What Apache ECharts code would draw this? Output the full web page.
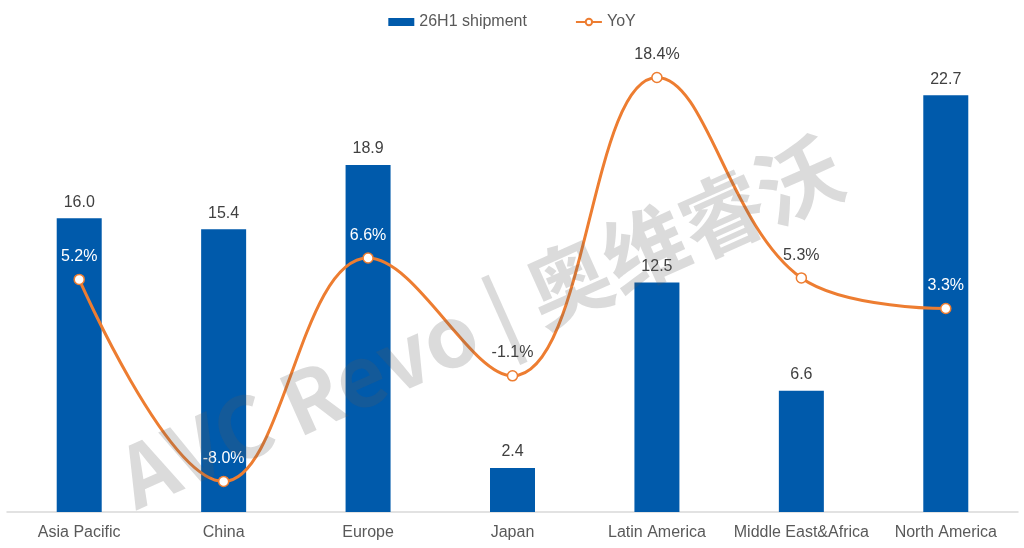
<!DOCTYPE html>
<html>
<head>
<meta charset="utf-8">
<script src="https://cdn.jsdelivr.net/npm/echarts@6/dist/echarts.min.js"></script>
<style>
  html, body { margin: 0; padding: 0; background: #fff; }
  #main { width: 1024px; height: 548px; }
</style>
</head>
<body>
<div id="main"></div>
<script>
var regions = ['Asia Pacific', 'China', 'Europe', 'Japan', 'Latin America', 'Middle East&Africa', 'North America'];
var shipment = [16.0, 15.4, 18.9, 2.4, 12.5, 6.6, 22.7];
var yoy = [5.2, -8.0, 6.6, -1.1, 18.4, 5.3, 3.3];
// label sits on the bar (white) or on blank background (dark)
var yoyOnBar = [true, true, true, false, false, false, true];

var font = 'Liberation Sans, Arial, sans-serif';

var myChart = echarts.init(document.getElementById('main'));

myChart.setOption({
  animation: false,
  textStyle: { fontFamily: font },
  legend: {
    top: 9,
    left: 'center',
    itemGap: 48,
    itemWidth: 26,
    itemHeight: 8,
    textStyle: { fontSize: 16, color: '#595959', fontFamily: font },
    data: [
      { name: '26H1 shipment', icon: 'rect' },
      { name: 'YoY' }
    ]
  },
  grid: { left: 7, right: 6, top: 53, bottom: 36 },
  xAxis: {
    type: 'category',
    data: regions,
    axisTick: { show: false },
    axisLine: { lineStyle: { color: '#d9d9d9', width: 1.5 } },
    axisLabel: { interval: 0, fontSize: 16, color: '#595959', margin: 13, fontFamily: font }
  },
  yAxis: [
    { type: 'value', min: 0, max: 25, show: false, splitLine: { show: false } },
    { type: 'value', min: -10, max: 20, show: false, splitLine: { show: false } }
  ],
  graphic: [{
    type: 'text',
    z: 100,
    x: 480,
    y: 322,
    rotation: 0.42,
    style: {
      text: 'AVC Revo | 奥维睿沃',
      font: 'bold 84px "Noto Sans CJK SC", sans-serif',
      fill: 'rgba(90,90,90,0.22)',
      align: 'center',
      verticalAlign: 'middle'
    }
  }],
  series: [
    {
      name: '26H1 shipment',
      type: 'bar',
      data: shipment,
      barWidth: 45,
      itemStyle: { color: '#005AAB' },
      label: {
        show: true,
        position: 'top',
        distance: 8,
        fontSize: 16,
        color: '#404040',
        fontFamily: font,
        formatter: function (p) { return p.value.toFixed(1); }
      }
    },
    {
      name: 'YoY',
      type: 'line',
      yAxisIndex: 1,
      smooth: 0.4,
      symbol: 'circle',
      symbolSize: 10,
      lineStyle: { color: '#ED7D31', width: 3 },
      itemStyle: { color: '#fff', borderColor: '#ED7D31', borderWidth: 1.5 },
      data: yoy.map(function (v, i) {
        return {
          value: v,
          label: { color: yoyOnBar[i] ? '#ffffff' : '#404040' }
        };
      }),
      label: {
        show: true,
        position: 'top',
        distance: 9,
        fontSize: 16,
        fontFamily: font,
        formatter: function (p) { return p.value.toFixed(1) + '%'; }
      },
      z: 5
    }
  ]
});
</script>
</body>
</html>
